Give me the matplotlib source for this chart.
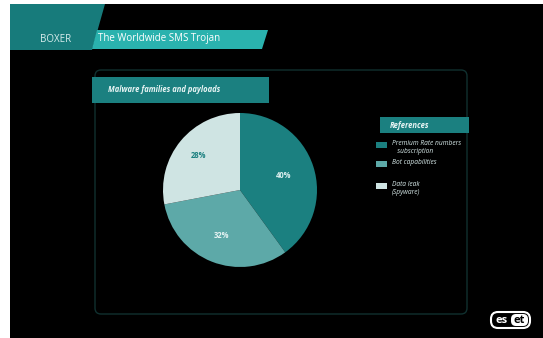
import matplotlib
matplotlib.use("Agg")
import matplotlib.pyplot as plt
from matplotlib.patches import Polygon, FancyBboxPatch, Rectangle
import numpy as np

# Data
categories = ["Premium Rate numbers\n   subscription", "Bot capabilities", "Data leak\n(Spyware)"]
values = [40, 32, 28]
pct_labels = ["40%", "32%", "28%"]
colors = ["#1b8080", "#5da9a8", "#cfe4e3"]

title_main = "The Worldwide SMS Trojan"
title_tag = "BOXER"
chart_title = "Malware families and payloads"
legend_title = "References"

plt.rcParams['font.family'] = ['Open Sans', 'DejaVu Sans']

W, H = 543, 338
fig = plt.figure(figsize=(W / 100, H / 100), dpi=100, facecolor="white")

# Background axes in pixel coordinates
bg = fig.add_axes([0, 0, 1, 1])
bg.set_xlim(0, W)
bg.set_ylim(H, 0)
bg.axis("off")

bg.add_patch(Rectangle((10, 4), W - 10, H - 4, facecolor="black", edgecolor="none"))

# Inner panel
bg.add_patch(FancyBboxPatch((95, 70), 372, 244, boxstyle="round,pad=0,rounding_size=6",
                            facecolor="black", edgecolor="#10302f", linewidth=1.0))

# Header shapes
bg.add_patch(Polygon([(10, 4), (105, 4), (92, 50), (10, 50)], closed=True,
                     facecolor="#177b7b", edgecolor="none"))
bg.add_patch(Polygon([(97, 30), (268, 30), (262, 49), (92, 49)], closed=True,
                     facecolor="#2ab2ae", edgecolor="none"))
bg.text(40, 39, title_tag, color="#d9eeee", fontsize=7, va="center", ha="left")
bg.text(98, 39, title_main, color="white", fontsize=7, va="center", ha="left")

# Chart title box
bg.add_patch(Rectangle((92, 77), 177, 26, facecolor="#1b8080", edgecolor="none"))
bg.text(108, 90, chart_title, color="#e8f4f4", fontsize=5.5, fontstyle="italic",
        fontweight="bold", va="center", ha="left")

# Legend
bg.add_patch(Rectangle((380, 117), 89, 16, facecolor="#1b8080", edgecolor="none"))
bg.text(390, 125, legend_title, color="#e8f4f4", fontsize=5.5, fontstyle="italic",
        fontweight="bold", va="center", ha="left")
leg_y = [145, 164, 186]
for yy, col, lab in zip(leg_y, colors, categories):
    bg.add_patch(Rectangle((376, yy - 3), 11, 6, facecolor=col, edgecolor="none"))
    bg.text(392, yy - 5, lab, color="#d6e8e8", fontsize=4.8, fontstyle="italic",
            va="top", ha="left", linespacing=1.15)

# ESET logo
bg.add_patch(FancyBboxPatch((491, 312), 39, 16, boxstyle="round,pad=0,rounding_size=7",
                            facecolor="black", edgecolor="white", linewidth=1.5))
bg.add_patch(FancyBboxPatch((511, 314), 17, 12, boxstyle="round,pad=0,rounding_size=5",
                            facecolor="white", edgecolor="none"))
bg.text(502, 320.5, "es", color="white", fontsize=8, fontweight="bold", va="center", ha="center")
bg.text(519.5, 320.5, "et", color="black", fontsize=8, fontweight="bold", va="center", ha="center")

# Pie
cx, cy, r = 240, 190, 77
pax = fig.add_axes([(cx - r) / W, (H - cy - r) / H, 2 * r / W, 2 * r / H])
pax.set_facecolor("none")
wedges, texts = pax.pie(values, colors=colors, startangle=90, counterclock=False,
                        radius=1.0, wedgeprops=dict(linewidth=0))
theta = 90.0
for v, lab, col, dist in zip(values, pct_labels, ["#dcefef", "#e6f3f3", "#1b8080"], [0.6, 0.64, 0.7]):
    ang = theta - v / 100 * 180
    theta -= v / 100 * 360
    x = dist * np.cos(np.radians(ang))
    y = dist * np.sin(np.radians(ang))
    pax.text(x, y, lab, color=col, fontsize=5.5, fontweight="bold", ha="center", va="center")
pax.set_xlim(-1, 1)
pax.set_ylim(-1, 1)
pax.set_aspect("equal")
pax.axis("off")

fig.savefig("out.png", dpi=100, facecolor="white")
